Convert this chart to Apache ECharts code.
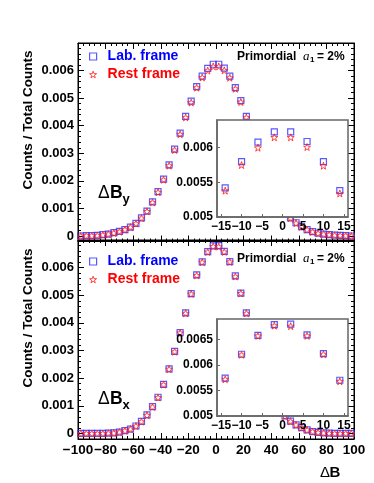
<!DOCTYPE html>
<html>
<head>
<meta charset="utf-8">
<script src="https://cdn.jsdelivr.net/npm/echarts/dist/echarts.min.js"></script>
<style>
  html, body { margin: 0; padding: 0; background: #fff; }
  #chart { width: 374px; height: 483px; }
</style>
</head>
<body>
<div id="chart"></div>
<script>
// bin centres of ΔB (bin width 4)
const bins = [-98, -94, -90, -86, -82, -78, -74, -70, -66, -62,
  -58, -54, -50, -46, -42, -38, -34, -30, -26, -22,
  -18, -14, -10, -6, -2, 2, 6, 10, 14, 18,
  22, 26, 30, 34, 38, 42, 46, 50, 54, 58,
  62, 66, 70, 74, 78, 82, 86, 90, 94, 98]

// ΔB_y panel
const byLab = [0, 0.00001, 0.00001, 0.00002, 0.00005, 0.00007, 0.00012, 0.00017, 0.00023, 0.00032,
  0.00046, 0.00066, 0.00090, 0.00124, 0.00161, 0.00206, 0.00258, 0.00315, 0.00373, 0.00434,
  0.00489, 0.00542, 0.00580, 0.00608, 0.00623, 0.00623, 0.00609, 0.00580, 0.00538, 0.00491,
  0.00434, 0.00372, 0.00314, 0.00257, 0.00205, 0.00160, 0.00123, 0.00091, 0.00066, 0.00048,
  0.00034, 0.00023, 0.00016, 0.00010, 0.00007, 0.00005, 0.00003, 0.00002, 0.00001, 0]
const byRest = [0, 0.00001, 0.00001, 0.00002, 0.00004, 0.00007, 0.00011, 0.00016, 0.00023, 0.00032,
  0.00045, 0.00065, 0.00089, 0.00122, 0.00159, 0.00204, 0.00255, 0.00312, 0.00369, 0.00430,
  0.00484, 0.00538, 0.00575, 0.00600, 0.00615, 0.00615, 0.00601, 0.00574, 0.00534, 0.00486,
  0.00430, 0.00369, 0.00311, 0.00255, 0.00203, 0.00159, 0.00122, 0.00090, 0.00065, 0.00047,
  0.00033, 0.00023, 0.00015, 0.00010, 0.00007, 0.00005, 0.00003, 0.00002, 0.00001, 0]

// ΔB_x panel
const bxLab = [0, 0, 0, 0, 0, 0.00001, 0.00002, 0.00005, 0.00010, 0.00016,
  0.00027, 0.00044, 0.00067, 0.00097, 0.00131, 0.00178, 0.00234, 0.00297, 0.00365, 0.00436,
  0.00506, 0.00574, 0.00621, 0.00658, 0.00679, 0.00680, 0.00659, 0.00622, 0.00570, 0.00508,
  0.00436, 0.00366, 0.00298, 0.00235, 0.00179, 0.00132, 0.00094, 0.00064, 0.00045, 0.00031,
  0.00021, 0.00013, 0.00007, 0.00004, 0.00002, 0.00001, 0, 0, 0, 0]
const bxRest = [0, 0, 0, 0, 0, 0.00001, 0.00002, 0.00005, 0.00010, 0.00016,
  0.00027, 0.00043, 0.00066, 0.00096, 0.00130, 0.00177, 0.00233, 0.00296, 0.00364, 0.00435,
  0.00505, 0.00572, 0.00620, 0.00657, 0.00677, 0.00676, 0.00657, 0.00621, 0.00568, 0.00507,
  0.00435, 0.00365, 0.00297, 0.00234, 0.00178, 0.00131, 0.00093, 0.00063, 0.00044, 0.00031,
  0.00021, 0.00013, 0.00007, 0.00004, 0.00002, 0.00001, 0, 0, 0, 0]

// tick labels
const yLabels = [0, 0.001, 0.002, 0.003, 0.004, 0.005, 0.006]
const yMajor = [0, 0.001, 0.002, 0.003, 0.004, 0.005, 0.006, 0.007]
const insetXLabels = [-15, -10, -5, 0, 5, 10, 15]

const FONT = '"Liberation Sans", Arial, Helvetica, sans-serif'
const STAR = 'path://M0,-10 L2.35,-3.24 L9.51,-3.09 L3.8,1.24 L5.88,8.09 L0,4 L-5.88,8.09 L-3.8,1.24 L-9.51,-3.09 L-2.35,-3.24 Z'

const LAB_STYLE = { color: 'rgba(255,255,255,0)', borderColor: '#3030ff', borderWidth: 1.2 }
const REST_STYLE = { color: 'rgba(255,255,255,0)', borderColor: '#ff1a1a', borderWidth: 1 }

const fmtX = v => (v < 0 ? '\u2212' + (-v) : String(v))
const toPts = arr => bins.map((b, i) => [b, arr[i]])

const labelStyle = (size) => ({
  fontSize: size, fontWeight: 'bold', color: '#000', fontFamily: FONT
})

// main frame axes
const mainX = (grid, position, showLabels) => ({
  type: 'value', gridIndex: grid, position,
  min: -100, max: 100, interval: 20,
  axisLine: { show: true, onZero: false, lineStyle: { color: '#000', width: 1 } },
  axisTick: { show: true, inside: true, length: 6, lineStyle: { color: '#000' } },
  minorTick: { show: true, splitNumber: 5, length: 3, lineStyle: { color: '#000' } },
  axisLabel: { show: showLabels, margin: 4, formatter: fmtX, ...labelStyle(13.5) },
  splitLine: { show: false }
})

const mainYMajor = (grid, position, showLabels) => ({
  type: 'value', gridIndex: grid, position,
  min: -0.0002, max: 0.007,
  axisLine: { show: true, onZero: false, lineStyle: { color: '#000', width: 1 } },
  axisTick: { show: true, inside: true, length: 6, customValues: yMajor, lineStyle: { color: '#000' } },
  axisLabel: { show: showLabels, margin: 4, customValues: yLabels, ...labelStyle(13) },
  splitLine: { show: false }
})

const mainYMinor = (grid, position) => ({
  type: 'value', gridIndex: grid, position,
  min: -0.0002, max: 0.007, interval: 0.0002,
  axisLine: { show: false, onZero: false },
  axisTick: { show: true, inside: true, length: 3, lineStyle: { color: '#000' } },
  axisLabel: { show: false },
  splitLine: { show: false }
})

// inset axes
const insetX = (grid) => ({
  type: 'value', gridIndex: grid, min: -16, max: 16, z: 6,
  axisLine: { show: true, onZero: false, lineStyle: { color: '#666', width: 1.5 } },
  axisTick: { show: true, inside: true, length: 3, customValues: insetXLabels, lineStyle: { color: '#666' } },
  axisLabel: { margin: 4, customValues: insetXLabels, formatter: fmtX, ...labelStyle(12) },
  splitLine: { show: false }
})

const insetY = (grid, max) => ({
  type: 'value', gridIndex: grid, min: 0.005, max: max, interval: 0.0005, z: 6,
  axisLine: { show: true, onZero: false, lineStyle: { color: '#666', width: 1.5 } },
  axisTick: { show: true, inside: true, length: 3, lineStyle: { color: '#666' } },
  axisLabel: { margin: 4, showMaxLabel: false, ...labelStyle(12) },
  splitLine: { show: false }
})

const labSeries = (name, data, xi, yi, z) => ({
  name, type: 'scatter', xAxisIndex: xi, yAxisIndex: yi, z,
  data: toPts(data), symbol: 'rect', symbolSize: 6, silent: true,
  itemStyle: LAB_STYLE
})

const restSeries = (name, data, xi, yi, z) => ({
  name, type: 'scatter', xAxisIndex: xi, yAxisIndex: yi, z,
  data: toPts(data), symbol: STAR, symbolSize: 7, silent: true,
  itemStyle: REST_STYLE
})

const legendFor = (top) => ({
  left: 89, top, orient: 'vertical', itemWidth: 7, itemHeight: 7, itemGap: 4,
  padding: 0, selectedMode: false,
  textStyle: { fontSize: 14, fontWeight: 'bold', fontFamily: FONT, padding: [0, 0, 0, 6] },
  data: [
    { name: 'Lab. frame', icon: 'rect', itemStyle: LAB_STYLE, textStyle: { color: '#0000ff' } },
    { name: 'Rest frame', icon: STAR, itemStyle: REST_STYLE, textStyle: { color: '#ff0000' } }
  ]
})

const txt = (x, y, text, font, extra) => ({
  type: 'text', x, y, silent: true,
  style: { text, font, fill: '#000', textAlign: 'left', textVerticalAlign: 'middle', ...extra }
})

// Primordial a_1 = 2%, placed at y
const primordial = (y) => [
  txt(237, y, 'Primordial', 'bold 12px ' + FONT),
  txt(303, y, 'a', 'italic 13px "Liberation Serif", "DejaVu Serif", serif'),
  txt(310, y + 3, '1', 'bold 8px ' + FONT),
  txt(317, y, '= 2%', 'bold 12px ' + FONT)
]

const deltaB = (y, sub) => [
  txt(98, y, '\u0394', '17.5px ' + FONT),
  txt(110, y, 'B', 'bold 17.5px ' + FONT),
  txt(122.5, y + 6, sub, 'bold 13px ' + FONT)
]

const yTitle = (y) => ({
  type: 'text', x: 28, y, rotation: Math.PI / 2, silent: true,
  style: { text: 'Counts / Total Counts', font: 'bold 13.5px ' + FONT, fill: '#000',
    textAlign: 'center', textVerticalAlign: 'middle' }
})

const chart = echarts.init(document.getElementById('chart'))

const option = {
  backgroundColor: '#fff',
  animation: false,
  grid: [
    { left: 78, top: 43, width: 276, height: 198.5, show: true, borderColor: '#000', borderWidth: 1 },
    { left: 78, top: 240, width: 276, height: 199, show: true, borderColor: '#000', borderWidth: 1 },
    { left: 217, top: 120, width: 131, height: 97, show: true, z: 5,
      backgroundColor: '#fff', borderColor: '#666', borderWidth: 1.5 },
    { left: 217, top: 319, width: 131, height: 97, show: true, z: 5,
      backgroundColor: '#fff', borderColor: '#666', borderWidth: 1.5 }
  ],
  xAxis: [
    mainX(0, 'bottom', false),
    mainX(0, 'top', false),
    mainX(1, 'bottom', true),
    mainX(1, 'top', false),
    insetX(2),
    insetX(3)
  ],
  yAxis: [
    mainYMajor(0, 'left', true),
    mainYMinor(0, 'left'),
    mainYMajor(0, 'right', false),
    mainYMinor(0, 'right'),
    mainYMajor(1, 'left', true),
    mainYMinor(1, 'left'),
    mainYMajor(1, 'right', false),
    mainYMinor(1, 'right'),
    insetY(2, 0.0064),
    insetY(3, 0.0069)
  ],
  legend: [legendFor(49.5), legendFor(254.5)],
  series: [
    labSeries('Lab. frame', byLab, 0, 0, 2),
    restSeries('Rest frame', byRest, 0, 0, 2),
    labSeries('Lab. frame', bxLab, 2, 4, 2),
    restSeries('Rest frame', bxRest, 2, 4, 2),
    labSeries('Lab. frame', byLab, 4, 8, 7),
    restSeries('Rest frame', byRest, 4, 8, 7),
    labSeries('Lab. frame', bxLab, 5, 9, 7),
    restSeries('Rest frame', bxRest, 5, 9, 7)
  ],
  graphic: [
    yTitle(120),
    yTitle(318),
    ...primordial(57),
    ...primordial(258.5),
    ...deltaB(193, 'y'),
    ...deltaB(399.5, 'x'),
    txt(320, 473, '\u0394', '15px ' + FONT),
    txt(329.5, 473, 'B', 'bold 15px ' + FONT)
  ]
}

chart.setOption(option)
</script>
</body>
</html>
